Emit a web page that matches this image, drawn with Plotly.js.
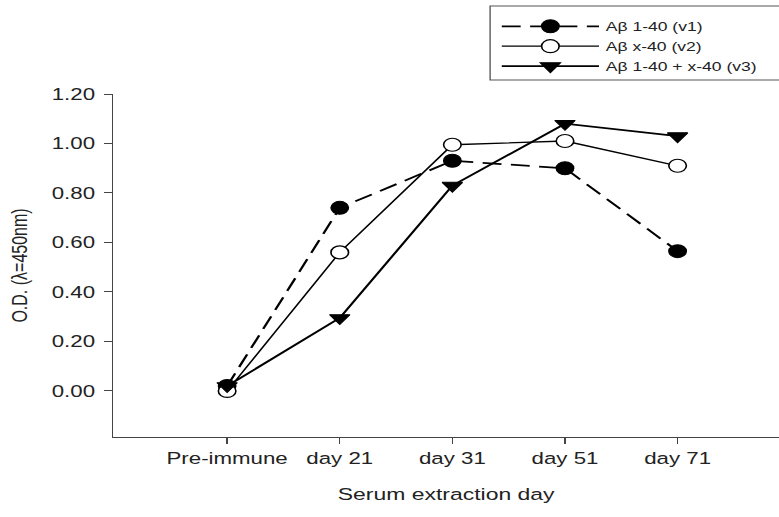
<!DOCTYPE html>
<html>
<head>
<meta charset="utf-8">
<script src="https://cdn.plot.ly/plotly-3.0.1.min.js"></script>
<style>
html,body{margin:0;padding:0;background:#fff;overflow:hidden;width:779px;height:517px;}
#chart{width:577px;height:517px;transform:scaleX(1.35);transform-origin:0 0;}
</style>
</head>
<body>
<div id="chart"></div>
<script>
const categories = ["Pre-immune", "day 21", "day 31", "day 51", "day 71"];
const seriesNames = ["A\u03b2 1-40 (v1)", "A\u03b2 x-40 (v2)", "A\u03b2 1-40 + x-40 (v3)"];
const v1 = [0.02, 0.74, 0.93, 0.90, 0.565];
const v2 = [0.00, 0.56, 0.995, 1.01, 0.91];
const v3 = [0.02, 0.295, 0.83, 1.08, 1.03];
const yTicks = [0, 0.2, 0.4, 0.6, 0.8, 1.0, 1.2];

const xIdx = categories.map((c, i) => i);
const font = {family: "Liberation Sans, Arial, sans-serif", color: "#222"};

const traces = [
  {x: xIdx, y: v1, name: seriesNames[0], mode: "lines+markers",
   line: {color: "#000", width: 1.8, dash: "14px,7px"},
   marker: {symbol: "circle", size: 13, color: "#000", line: {color: "#000", width: 1}}},
  {x: xIdx, y: v2, name: seriesNames[1], mode: "lines+markers",
   line: {color: "#000", width: 1.3},
   marker: {symbol: "circle", size: 13, color: "#fff", line: {color: "#000", width: 1.2}}},
  {x: xIdx, y: v3, name: seriesNames[2], mode: "lines+markers",
   line: {color: "#000", width: 1.8},
   marker: {symbol: "triangle-down", size: 13, color: "#000", line: {color: "#000", width: 1}}}
];

const layout = {
  width: 577, height: 517,
  margin: {l: 84, r: 0, t: 94, b: 80},
  paper_bgcolor: "#fff", plot_bgcolor: "#fff",
  font: Object.assign({size: 16}, font),
  showlegend: true,
  legend: {
    x: 0.5734, y: 0.978, xref: "paper", yref: "container", xanchor: "left", yanchor: "top",
    borderwidth: 0, bgcolor: "rgba(0,0,0,0)",
    itemwidth: 72, tracegroupgap: 0,
    font: Object.assign({size: 13}, font)
  },
  shapes: [{
    type: "rect", xref: "paper", yref: "paper",
    x0: 0.566, x1: 1.05, y0: 1.0408, y1: 1.2566,
    line: {color: "#555", width: 1}, fillcolor: "rgba(0,0,0,0)"
  }],
  xaxis: {
    range: [-1.01, 4.9], tickmode: "array", tickvals: xIdx, ticktext: categories,
    showgrid: false, zeroline: false, showline: true, linecolor: "#444", linewidth: 1.3,
    ticks: "outside", ticklen: 6, tickcolor: "#444",
    tickfont: Object.assign({size: 16.5}, font),
    title: {text: "Serum extraction day", font: Object.assign({size: 17}, font), standoff: 22}
  },
  yaxis: {
    range: [-0.186, 1.2], tickmode: "array", tickvals: yTicks, tickformat: ".2f",
    showgrid: false, zeroline: false, showline: true, linecolor: "#444", linewidth: 1.3,
    ticks: "outside", ticklen: 6, tickcolor: "#444", ticklabelstandoff: 3,
    tickfont: Object.assign({size: 16.5}, font),
    title: {text: "O.D. (\u03bb=450nm)", font: Object.assign({size: 16}, font), standoff: 13}
  }
};

Plotly.newPlot("chart", traces, layout, {displayModeBar: false, staticPlot: true});
</script>
</body>
</html>
